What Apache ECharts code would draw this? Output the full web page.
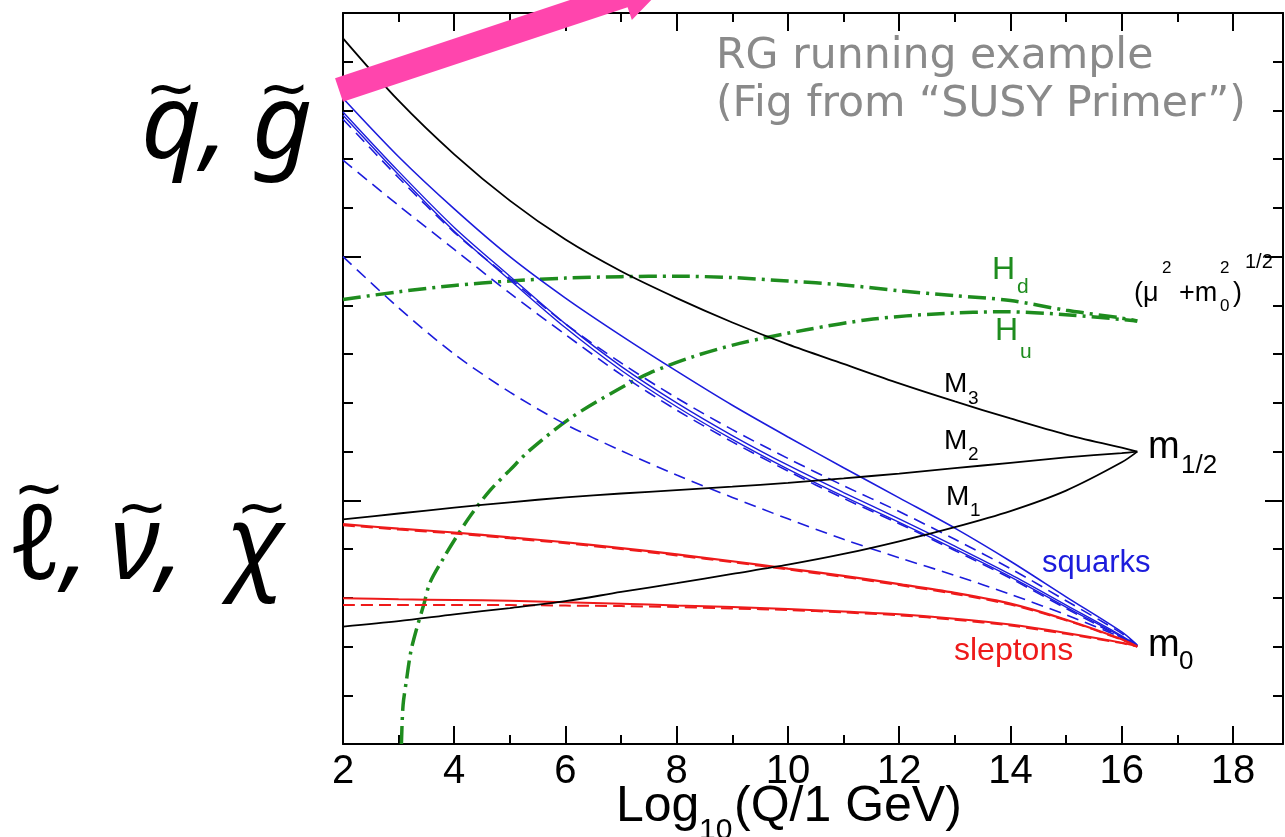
<!DOCTYPE html>
<html>
<head>
<meta charset="utf-8">
<script src="https://cdn.jsdelivr.net/npm/echarts@6/dist/echarts.min.js"></script>
<style>
  html, body { margin: 0; padding: 0; background: #fff; }
  #chart { width: 1285px; height: 837px; }
</style>
</head>
<body>
<div id="chart"></div>
<script>
// scale points, log10(Q / 1 GeV)
const xs = [2, 3, 4, 5, 6, 7, 8, 9, 10, 11, 12, 13, 14, 15, 16, 16.28];

// gaugino masses (black)
const m3 = [14.48, 13.2, 12.1, 11.15, 10.35, 9.7, 9.15, 8.65, 8.2, 7.8, 7.4, 7.03, 6.68, 6.35, 6.08, 6.0];
const m2 = [4.61, 4.73, 4.85, 4.96, 5.06, 5.14, 5.21, 5.28, 5.36, 5.45, 5.55, 5.66, 5.77, 5.88, 5.97, 6.0];
const m1 = [2.41, 2.52, 2.66, 2.79, 2.93, 3.12, 3.30, 3.49, 3.68, 3.9, 4.16, 4.45, 4.78, 5.2, 5.78, 6.0];

// squarks (blue)
const sqA = [13.25, 12.05, 10.98, 10.0, 9.15, 8.38, 7.65, 6.95, 6.3, 5.67, 5.05, 4.43, 3.75, 3.02, 2.3, 2.03];
const sqB = [12.97, 11.75, 10.6, 9.6, 8.62, 7.75, 7.0, 6.33, 5.72, 5.16, 4.62, 4.06, 3.48, 2.85, 2.22, 2.01];
const sqC = [12.9, 11.68, 10.52, 9.52, 8.54, 7.67, 6.92, 6.25, 5.64, 5.08, 4.55, 4.0, 3.43, 2.81, 2.2, 2.01];
const sqD = [12.82, 11.62, 10.5, 9.55, 8.62, 7.82, 7.1, 6.45, 5.86, 5.3, 4.77, 4.2, 3.6, 2.94, 2.27, 2.02];
const sqE = [11.98, 11.05, 10.15, 9.25, 8.4, 7.58, 6.85, 6.2, 5.6, 5.04, 4.52, 3.97, 3.4, 2.78, 2.18, 2.0];
const sqF = [10.0, 8.95, 8.0, 7.22, 6.56, 6.02, 5.52, 5.06, 4.62, 4.2, 3.82, 3.46, 3.07, 2.65, 2.18, 2.0];

// sleptons (red)
const slUp = [4.51, 4.42, 4.34, 4.24, 4.14, 4.02, 3.89, 3.75, 3.60, 3.45, 3.28, 3.10, 2.88, 2.55, 2.15, 2.0];
const slUpDash = [4.49, 4.4, 4.32, 4.22, 4.12, 4.0, 3.87, 3.73, 3.58, 3.43, 3.26, 3.08, 2.86, 2.54, 2.14, 2.0];
const slLo = [2.99, 2.97, 2.955, 2.94, 2.91, 2.88, 2.84, 2.81, 2.77, 2.72, 2.66, 2.57, 2.45, 2.28, 2.08, 2.0];
const slLoDash = [2.85, 2.85, 2.85, 2.85, 2.84, 2.83, 2.81, 2.78, 2.75, 2.70, 2.64, 2.55, 2.43, 2.26, 2.07, 2.0];

// Higgs (green)
const hd = [9.12, 9.28, 9.41, 9.5, 9.56, 9.59, 9.6, 9.57, 9.5, 9.42, 9.3, 9.2, 9.1, 8.9, 8.74, 8.68];
const huX = [3.05, 3.08, 3.14, 3.22, 3.32, 3.45, 3.56, 3.8, 4.04, 4.3, 4.64, 5.0, 5.36, 6.08, 6.92, 7.51, 8.3, 9.13, 10.33, 11.53, 12.73, 13.93, 15.12, 16.28];
const huY = [0, 0.8, 1.3, 1.9, 2.35, 2.85, 3.3, 3.8, 4.25, 4.7, 5.2, 5.62, 6.03, 6.68, 7.26, 7.61, 7.95, 8.22, 8.5, 8.72, 8.83, 8.87, 8.8, 8.68];

const BLACK = '#000000', BLUE = '#1c1cdc', RED = '#ee1a1a', GREEN = '#1e8c1e';
const SANS = '"Liberation Sans", Arial, sans-serif';
const ITAL = 'italic 104px "Noto Sans", "DejaVu Sans", sans-serif';
const TILDE = '62px "DejaVu Sans", sans-serif';

function pairs(xv, yv) {
  return xv.map(function (x, i) { return [x, yv[i]]; });
}

function line(vals, color, width, type, xv) {
  return {
    type: 'line',
    data: pairs(xv || xs, vals),
    symbol: 'none',
    smooth: 0.3,
    lineStyle: { color: color, width: width, type: type || 'solid' },
    silent: true
  };
}

function txt(x, y, s, size, color, extra) {
  const st = {
    text: s, x: x, y: y,
    font: (extra && extra.font) || (size + 'px ' + SANS),
    fill: color,
    textAlign: (extra && extra.align) || 'left',
    textVerticalAlign: 'middle'
  };
  return { type: 'text', style: st, z: 100 };
}

const dashDot = [18, 6, 3, 6];

let series = [
  line(hd, GREEN, 3.5, dashDot),
  line(huY, GREEN, 3.5, dashDot, huX),
  line(sqF, BLUE, 1.6, [12, 7]),
  line(sqE, BLUE, 1.6, [12, 7]),
  line(sqD, BLUE, 1.6, [12, 7]),
  line(sqC, BLUE, 1.4),
  line(sqB, BLUE, 1.4),
  line(sqA, BLUE, 1.6),
  line(slLoDash, RED, 2, [12, 6]),
  line(slLo, RED, 2),
  line(slUpDash, RED, 2, [12, 6]),
  line(slUp, RED, 2.2),
  line(m1, BLACK, 1.8),
  line(m2, BLACK, 1.8),
  line(m3, BLACK, 1.8)
];

// pink arrow (annotation)
const ax0 = 339, ay0 = 90, ang = 18.4 * Math.PI / 180;
const dx = Math.cos(ang), dy = -Math.sin(ang), nx = Math.sin(ang), ny = Math.cos(ang);
function pt(s, w) { return [ax0 + dx * s + nx * w, ay0 + dy * s + ny * w]; }
const arrow = {
  type: 'polygon',
  shape: { points: [pt(0, -12.5), pt(300, -12.5), pt(300, -26), pt(350, 0), pt(300, 26), pt(300, 12.5), pt(0, 12.5)] },
  style: { fill: '#ff45ad' },
  z: 90
};

const graphics = [
  arrow,
  txt(716, 57, 'RG running example', 42.6, '#8a8a8a', { font: '42.6px "DejaVu Sans", sans-serif' }),
  txt(716, 105, '(Fig from \u201cSUSY Primer\u201d)', 42.6, '#8a8a8a', { font: '42.6px "DejaVu Sans", sans-serif' }),
  // left particle labels, tildes drawn separately
  txt(141, 128, 'q,', 104, BLACK, { font: ITAL }),
  txt(252, 128, 'g', 104, BLACK, { font: ITAL }),
  txt(145, 93, '~', 62, BLACK, { font: TILDE }),
  txt(258, 93, '~', 62, BLACK, { font: TILDE }),
  txt(8, 549, '\u2113,', 104, BLACK, { font: ITAL }),
  txt(110, 549, '\u03bd,', 104, BLACK, { font: ITAL }),
  txt(226, 549, '\u03c7', 104, BLACK, { font: ITAL }),
  txt(13, 493, '~', 62, BLACK, { font: TILDE }),
  txt(116, 512, '~', 62, BLACK, { font: TILDE }),
  txt(236, 512, '~', 62, BLACK, { font: TILDE }),
  // Higgs labels
  txt(992, 270, 'H', 32, GREEN),
  txt(1017, 287, 'd', 21, GREEN),
  txt(995, 331, 'H', 32, GREEN),
  txt(1020, 352, 'u', 21, GREEN),
  txt(1134, 294, '(\u03bc', 27, BLACK),
  txt(1162, 268, '2', 17, BLACK),
  txt(1179, 294, '+m', 27, BLACK),
  txt(1220, 268, '2', 17, BLACK),
  txt(1220, 306, '0', 17, BLACK),
  txt(1233, 294, ')', 27, BLACK),
  txt(1245, 262, '1/2', 20, BLACK),
  // gaugino labels
  txt(944, 384, 'M', 28, BLACK),
  txt(968, 399, '3', 19, BLACK),
  txt(944, 441, 'M', 28, BLACK),
  txt(968, 455, '2', 19, BLACK),
  txt(946, 497, 'M', 28, BLACK),
  txt(970, 511, '1', 19, BLACK),
  txt(1148, 448, 'm', 38, BLACK),
  txt(1181, 466, '1/2', 26, BLACK),
  txt(1148, 646, 'm', 38, BLACK),
  txt(1179, 662, '0', 26, BLACK),
  txt(1042, 563, 'squarks', 31, BLUE),
  txt(954, 651, 'sleptons', 32, RED),
  // x axis title
  txt(616, 807, 'Log', 50, BLACK),
  txt(699, 831, '10', 30, BLACK),
  txt(734, 807, '(Q/1 GeV)', 50, BLACK)
];

const axLine = { show: true, onZero: false, lineStyle: { color: BLACK, width: 2 } };

const option = {
  animation: false,
  backgroundColor: '#ffffff',
  grid: { left: 343, right: 2, top: 13, bottom: 93, containLabel: false, outerBoundsMode: 'none' },
  xAxis: [
    {
      type: 'value', min: 2, max: 18.9, interval: 2, position: 'bottom',
      axisLine: axLine,
      axisTick: { inside: true, length: 18, lineStyle: { color: BLACK, width: 2 } },
      minorTick: { show: true, splitNumber: 2, length: 9, lineStyle: { color: BLACK, width: 2 } },
      axisLabel: { color: BLACK, fontSize: 40, fontFamily: SANS, margin: 8, showMaxLabel: false },
      splitLine: { show: false }
    },
    {
      type: 'value', min: 2, max: 18.9, interval: 2, position: 'top',
      axisLine: axLine,
      axisTick: { inside: true, length: 18, lineStyle: { color: BLACK, width: 2 } },
      minorTick: { show: true, splitNumber: 2, length: 9, lineStyle: { color: BLACK, width: 2 } },
      axisLabel: { show: false },
      splitLine: { show: false }
    }
  ],
  yAxis: [
    {
      type: 'value', min: 0, max: 15, interval: 5, position: 'left',
      axisLine: axLine,
      axisTick: { inside: true, length: 18, lineStyle: { color: BLACK, width: 2 } },
      minorTick: { show: true, splitNumber: 5, length: 10, lineStyle: { color: BLACK, width: 2 } },
      axisLabel: { show: false },
      splitLine: { show: false }
    },
    {
      type: 'value', min: 0, max: 15, interval: 5, position: 'right',
      axisLine: axLine,
      axisTick: { inside: true, length: 18, lineStyle: { color: BLACK, width: 2 } },
      minorTick: { show: true, splitNumber: 5, length: 10, lineStyle: { color: BLACK, width: 2 } },
      axisLabel: { show: false },
      splitLine: { show: false }
    }
  ],
  series: series,
  graphic: graphics
};

let myChart = echarts.init(document.getElementById('chart'), null, { renderer: 'canvas' });
myChart.setOption(option);
</script>
</body>
</html>
